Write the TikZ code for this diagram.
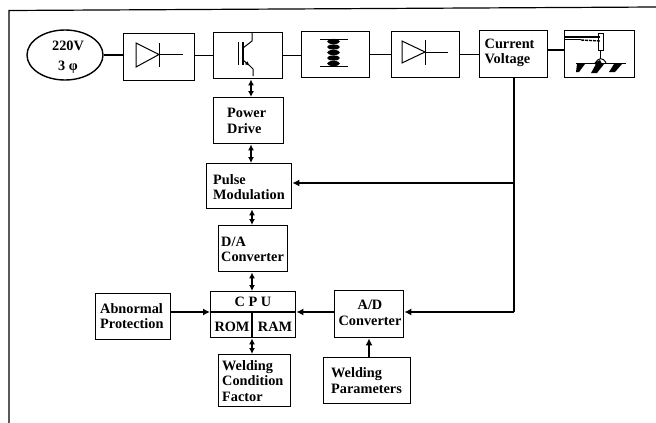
\documentclass[tikz,border=0pt]{standalone}
\usepackage{fontspec}
\setmainfont{Liberation Serif}
\usetikzlibrary{arrows.meta,shapes.geometric}
\tikzset{
  x=1pt,y=-1pt,
  blk/.style={draw,line width=1.4pt,inner sep=0pt},
  lbl/.style={font=\bfseries\fontsize{14.3}{15.5}\selectfont,align=left,inner sep=0pt},
  wire/.style={line width=1.3pt},
  arr/.style={line width=1.3pt,-{Latex[length=7pt,width=7pt]}},
  dbl/.style={line width=1.3pt,{Latex[length=6pt,width=6pt]}-{Latex[length=6pt,width=6pt]}},
  sym/.style={line width=1pt},
}
\newcommand{\boxat}[5]{\node[blk,minimum width=#4-#2,minimum height=#5-#3,anchor=north west] (#1) at (#2,#3) {};}
\begin{document}
\begin{tikzpicture}
\useasboundingbox (0,0) rectangle (656,423);
% frame
\draw[line width=1.2pt] (9,423) -- (9,10.5) -- (656,7);
% boxes
\node[draw,line width=1.4pt,ellipse,minimum width=76pt,minimum height=50pt,inner sep=0pt] (src) at (65,55) {};
\node[lbl,align=center,font=\bfseries\fontsize{14.3}{20}\selectfont] (tsrc) at (68,57) {220V\\3 φ};
\boxat{rect}{123}{33}{194}{80}
\boxat{igbt}{213}{32}{282}{78}
\boxat{trans}{301}{31}{369}{77}
\boxat{diode}{391}{31}{459}{77}
\boxat{cv}{479}{30}{547}{77}
\boxat{weld}{564}{30}{634}{77}
\boxat{pd}{213}{97}{283}{143}
\boxat{pm}{206}{163}{291}{208}
\boxat{da}{218}{225}{287}{271}
\boxat{cpu}{210}{291}{295}{337}
\boxat{abn}{95}{293}{170}{339}
\boxat{ad}{334}{290}{403}{337}
\boxat{wc}{218}{354}{290}{406}
\boxat{wp}{323}{357}{410}{403}
% labels
\node[lbl,anchor=west] (tcv) at (484.5,53) {Current\\Voltage};
\node[lbl,anchor=west] (tpd) at (227,121) {Power\\Drive};
\node[lbl,anchor=west] (tpm) at (213,187) {Pulse\\Modulation};
\node[lbl,anchor=west] (tda) at (221,249.5) {D/A\\Converter};
\node[lbl,anchor=center] (tcpu) at (253,302) {C P U};
\node[lbl,anchor=center] (trom) at (232,327) {ROM};
\node[lbl,anchor=center] (tram) at (275,327) {RAM};
\node[lbl,anchor=west] (tabn) at (100,316) {Abnormal\\Protection};
\node[lbl,anchor=center,align=center] (tad) at (370,313) {A/D\\Converter};
\node[lbl,anchor=west] (twc) at (222,381) {Welding\\Condition\\Factor};
\node[lbl,anchor=west] (twp) at (331,380.5) {Welding\\Parameters};
% cpu dividers
\coordinate (fc) at (514,312);
\draw[wire] (cpu.west |- fc) -- (cpu.east |- fc);
\draw[wire] (252,312) -- (cpu.south -| 252,0);
% wires of the top row
\draw[wire] (src.east) -- (rect.west |- src.east);
\draw[wire] (rect.east |- igbt.west) -- (igbt.west);
\draw[wire] (igbt.east) -- (trans.west |- igbt.east);
\draw[wire] (trans.east) -- (diode.west);
\draw[wire] (diode.east) -- (cv.west |- diode.east);
\draw[wire] (cv.east |- 0,50) -- (weld.west |- 0,50);
% vertical chain
\draw[dbl] (igbt.south -| 251,0) -- (pd.north -| 251,0);
\draw[dbl] (pd.south -| 251,0) -- (pm.north -| 251,0);
\draw[dbl] (pm.south -| 252,0) -- (da.north -| 252,0);
\draw[dbl] (da.south -| 252,0) -- (cpu.north -| 252,0);
\draw[dbl] (cpu.south -| 252,0) -- (wc.north -| 252,0);
% feedback
\coordinate (fb) at (514,183);
\draw[wire] (cv.south -| fb) -- (fc);
\draw[arr] (fb) -- (pm.east |- fb);
\draw[arr] (fc) -- (ad.east |- fc);
\draw[arr] (ad.west |- fc) -- (cpu.east |- fc);
\draw[arr] (abn.east |- fc) -- (cpu.west |- fc);
\draw[arr] (wp.north -| 369,0) -- (ad.south -| 369,0);
% diode 1
\draw[sym] (136,43) -- (136,67) -- (159,54.5) -- cycle;
\draw[sym] (159,43) -- (159,67);
\draw[sym] (159,54.5) -- (183,54.5);
% diode 2
\draw[sym] (402,41) -- (402,63) -- (425,52) -- cycle;
\draw[sym] (425,40) -- (425,65);
\draw[sym] (425,52) -- (448,52);
% IGBT
\draw[sym] (238,42) -- (238,65);
\draw[line width=1.3pt] (243,42) -- (243,65);
\draw[sym] (243,48) -- (252,41) -- (252,33);
\draw[sym,-{Latex[length=5pt,width=4pt]}] (243,60) -- (250,66);
\draw[sym] (249,65) -- (253,69) -- (253,76);
% transformer
\draw[sym] (320,39) -- (348,39);
\draw[sym] (320,66.5) -- (348,66.5);
\foreach \yy in {41.5,47,52.5,58,63.5}{
  \fill (333.5,\yy) ellipse (6.5pt and 2.6pt);
}
% welding torch
\draw[line width=1.1pt] (565,37) -- (600,37);
\draw[line width=1.1pt] (565,39.5) -- (581,39.5);
\draw[line width=1.4pt,dash pattern=on 3pt off 1pt] (581,40) -- (600,41);
\draw[sym] (598.5,33) rectangle (603,50);
\draw[sym] (600,50) -- (600,58);
\draw[sym] (595,64) .. controls (598,57) and (603,57) .. (606,63);
\fill (594,63) -- (600,60) -- (603,66) -- (597,66) -- cycle;
\draw[line width=1.1pt] (576,63.5) -- (626,63.5);
\fill (577,64) -- (585,64) -- (579,72) -- (576,72) -- cycle;
\fill (596,64) -- (604,64) -- (597,73) -- (591,73) -- cycle;
\fill (614,64) -- (622,64) -- (615,72) -- (609,72) -- cycle;
\end{tikzpicture}
\end{document}
